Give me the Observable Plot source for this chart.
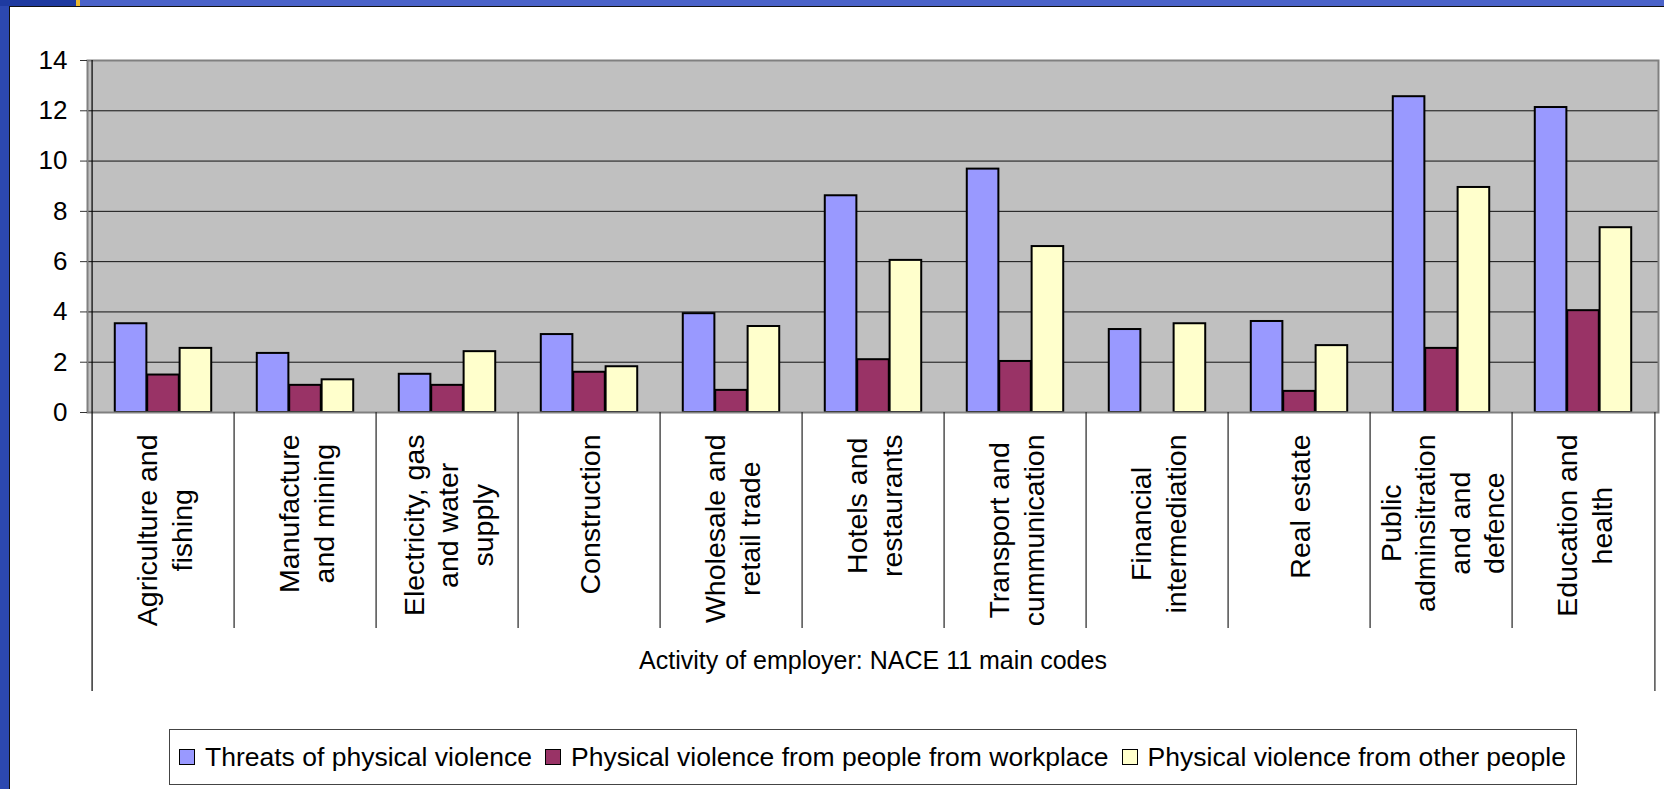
<!DOCTYPE html>
<html><head><meta charset="utf-8">
<script src="https://cdn.jsdelivr.net/npm/d3@7"></script>
<script src="https://cdn.jsdelivr.net/npm/@observablehq/plot@0.6"></script>
<style>
html,body{margin:0;padding:0;background:#fff;}
#page{position:relative;width:1664px;height:789px;overflow:hidden;background:#fff;font-family:"Liberation Sans",Arial,sans-serif;}
.strip{position:absolute;}
#chart{position:absolute;left:0;top:0;}
#legend{position:absolute;left:169px;top:729px;height:56px;border:1px solid #444;display:flex;align-items:center;padding:0 10px 0 9px;box-sizing:border-box;font-size:26.5px;color:#000;white-space:nowrap;background:#fff;}
.sw{width:14px;height:14px;border:1.5px solid #000;margin-right:10px;flex:none;}
.item{display:flex;align-items:center;margin-right:13px;}
.item:last-child{margin-right:0;}
</style></head>
<body><div id="page">
<div class="strip" style="left:0;top:0;width:9px;height:789px;background:#2C48B0"></div>
<div class="strip" style="left:9px;top:6px;width:1px;height:783px;background:#111"></div>
<div class="strip" style="left:0;top:0;width:76px;height:6px;background:#1E3AA0"></div>
<div class="strip" style="left:76px;top:0;width:4px;height:6px;background:#E8B830"></div>
<div class="strip" style="left:80px;top:0;width:1584px;height:6px;background:#4B63C9"></div>
<div class="strip" style="left:9px;top:6px;width:1655px;height:1px;background:#111"></div>
<div id="chart"></div>
<div id="legend"></div>
</div>
<script>
const categories = ["Agriculture and fishing","Manufacture and mining","Electricity, gas and water supply","Construction","Wholesale and retail trade","Hotels and restaurants","Transport and cummunication","Financial intermediation","Real estate","Public adminsitration and and defence","Education and health"];
const categoryLabels = ["Agriculture and\nfishing","Manufacture\nand mining","Electricity, gas\nand water\nsupply","Construction","Wholesale and\nretail trade","Hotels and\nrestaurants","Transport and\ncummunication","Financial\nintermediation","Real estate","Public\nadminsitration\nand and\ndefence","Education and\nhealth"];
const series = ["Threats of physical violence","Physical violence from people from workplace","Physical violence from other people"];
const colors = ["#9999FF","#993366","#FFFFCC"];
const threats   = [3.53, 2.35, 1.52, 3.10, 3.93, 8.62, 9.68, 3.30, 3.62, 12.56, 12.13];
const workplace = [1.49, 1.08, 1.08, 1.60, 0.88, 2.10, 2.03, 0,    0.84, 2.55,  4.05];
const others    = [2.55, 1.30, 2.42, 1.82, 3.42, 6.05, 6.60, 3.53, 2.66, 8.95,  7.35];
const yTicks = [0, 2, 4, 6, 8, 10, 12, 14];
const axisTitle = "Activity of employer: NACE 11 main codes";

const seriesValues = [threats, workplace, others];
const rows = categories.flatMap((c, i) => series.map((s, k) => ({category: c, series: s, value: seriesValues[k][i]})));

const W = 1664, H = 700, ML = 87, MR = 6, MT = 60, MB = 288;
const bw = (W - ML - MR) / categories.length;
const barW = bw * 0.227;
const pad = (bw - 3 * barW) / 2;
const FONT = '"Liberation Sans", Arial, sans-serif';
const labelSize = 28.5;

const ctx = document.createElement("canvas").getContext("2d");
ctx.font = `${labelSize}px "Liberation Sans"`;
const labelWidth = categoryLabels.map(t => Math.max(...t.split("\n").map(l => ctx.measureText(l).width)));

const unit = (H - MT - MB) / 14;
const innerDrop = -(628 - (H - MB)) / unit;
const outerDrop = -(691 - (H - MB)) / unit;

const chart = Plot.plot({
  width: W, height: H,
  marginLeft: ML, marginRight: MR, marginTop: MT, marginBottom: MB,
  style: {fontFamily: FONT, background: "transparent", overflow: "visible", color: "#000"},
  x: {domain: categories, padding: 0, axis: null},
  y: {domain: [0, 14], axis: null},
  marks: [
    Plot.frame({fill: "#C0C0C0"}),
    Plot.ruleY(yTicks.filter(t => t > 0 && t < 14), {stroke: "#111", strokeWidth: 1}),
    ...series.map((s, k) => Plot.barY(rows.filter(d => d.series === s && d.value > 0), {
      x: "category", y: "value", fill: colors[k], stroke: "#000", strokeWidth: 2,
      insetLeft: pad + k * barW, insetRight: bw - pad - (k + 1) * barW
    })),
    Plot.frame({stroke: "#808080", strokeWidth: 2}),
    Plot.ruleX([categories[0]], {x: d => d, dx: -bw / 2, y1: outerDrop, y2: 14, stroke: "#000", strokeWidth: 1.2}),
    Plot.ruleX([categories[categories.length - 1]], {x: d => d, dx: bw / 2, y1: outerDrop, y2: 0, stroke: "#222", strokeWidth: 1.2}),
    Plot.ruleX(categories.slice(1), {x: d => d, dx: -bw / 2, y1: innerDrop, y2: 0, stroke: "#222", strokeWidth: 1.2}),
    Plot.axisY({ticks: yTicks, label: null, tickSize: 7, tickPadding: 13, fontSize: 26, stroke: "#333"}),
    ...categories.map((c, i) => Plot.text([c], {
      x: d => d, frameAnchor: "bottom", text: () => categoryLabels[i],
      rotate: -90, textAnchor: "middle", lineAnchor: "middle", lineHeight: 1.2,
      fontSize: labelSize, fill: "#000", dy: 22 + labelWidth[i] / 2
    })),
    Plot.text([axisTitle], {text: d => d, frameAnchor: "bottom", dy: 256.5, fontSize: 25, fill: "#000"})
  ]
});
document.getElementById("chart").appendChild(chart);

const legend = document.getElementById("legend");
series.forEach((s, k) => {
  const item = document.createElement("div");
  item.className = "item";
  const sw = document.createElement("span");
  sw.className = "sw";
  sw.style.background = colors[k];
  const tx = document.createElement("span");
  tx.textContent = s;
  item.appendChild(sw); item.appendChild(tx);
  legend.appendChild(item);
});
</script>
</body></html>
